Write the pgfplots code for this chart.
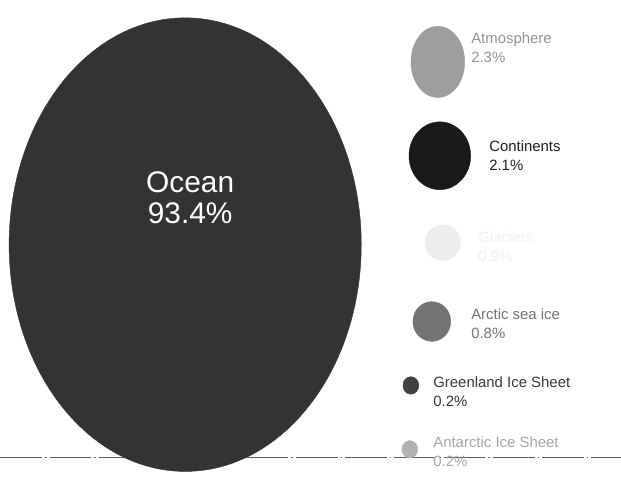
\documentclass[border=0pt]{standalone}
\usepackage{pgfplots}
\pgfplotsset{compat=1.18}
\usepackage{fontspec}
\setmainfont{Liberation Sans}

\begin{document}
\begin{tikzpicture}
\begin{axis}[
    set layers,
    scale only axis,
    width=621bp, height=487bp,
    xmin=0, xmax=621, ymin=0, ymax=487,
    y dir=reverse,
    hide axis, clip=false,
    bubble/.style={only marks, mark=*, color=#1},
]
\path (rel axis cs:0,0) rectangle (rel axis cs:1,1);

% dash-dot base line, behind the bubbles
\addplot[on layer=axis background, black!62, line width=0.9pt,
    dash pattern=on 42pt off 3pt on 1.5pt off 3pt]
    coordinates {(0,458) (621,458)};

% bubbles: centre in pixels, radius as mark size, yscale for the oval
\addplot[bubble=black!80, mark size=177, mark options={yscale=1.288}]
    coordinates {(185,245)};   % Ocean 93.4
\addplot[bubble=black!38, mark size=27, mark options={yscale=1.33}]
    coordinates {(438,62)};    % Atmosphere 2.3
\addplot[bubble=black!90, mark size=31, mark options={yscale=1.1}]
    coordinates {(440,156)};   % Continents 2.1
\addplot[bubble=black!7, mark size=18]
    coordinates {(443,243)};   % Glaciers 0.9
\addplot[bubble=black!55, mark size=19, mark options={yscale=1.05}]
    coordinates {(432,322)};   % Arctic sea ice 0.8
\addplot[bubble=black!75, mark size=8, mark options={yscale=1.1}]
    coordinates {(411,386)};   % Greenland 0.2
\addplot[bubble=black!30, mark size=8, mark options={yscale=1.1}]
    coordinates {(410,450)};   % Antarctic 0.2

% labels
\begin{pgfonlayer}{axis foreground}
\node[text=white, align=center, font=\fontsize{30}{31}\selectfont]
    at (axis cs:190,198) {Ocean\\93.4\%};
\begin{scope}[every node/.style={anchor=west, align=left,
        font=\fontsize{15}{19}\selectfont}]
\node[text=black!42] at (axis cs:468,48) {Atmosphere\\2.3\%};
\node[text=black!88] at (axis cs:486,156) {Continents\\2.1\%};
\node[text=black!6]  at (axis cs:475,247) {Glaciers\\0.9\%};
\node[text=black!55] at (axis cs:468,324) {Arctic sea ice\\0.8\%};
\node[text=black!78] at (axis cs:430,392) {Greenland Ice Sheet\\0.2\%};
\node[text=black!35] at (axis cs:430,452) {Antarctic Ice Sheet\\0.2\%};
\end{scope}
\end{pgfonlayer}
\end{axis}
\end{tikzpicture}
\end{document}
